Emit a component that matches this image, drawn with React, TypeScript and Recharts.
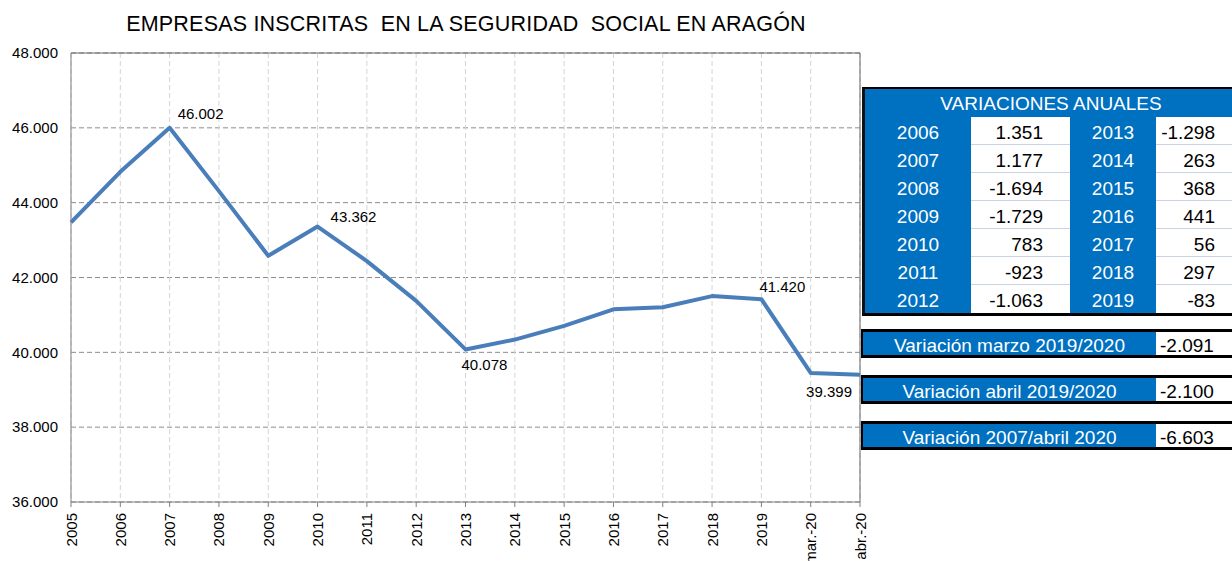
import {
  LineChart,
  Line,
  XAxis,
  YAxis,
  CartesianGrid,
  ReferenceLine,
  LabelList,
} from "recharts";

const CATEGORIES = [
  "2005", "2006", "2007", "2008", "2009", "2010", "2011", "2012", "2013",
  "2014", "2015", "2016", "2017", "2018", "2019", "mar.-20", "abr.-20",
];
const EMPRESAS = [
  43474, 44825, 46002, 44308, 42579, 43362, 42439, 41376, 40078,
  40341, 40709, 41150, 41206, 41503, 41420, 39450, 39399,
];
const Y_TICKS = [36000, 38000, 40000, 42000, 44000, 46000, 48000];
const LABELED = ["2007", "2010", "2013", "2019", "abr.-20"];

const VAR_YEARS_A = ["2006", "2007", "2008", "2009", "2010", "2011", "2012"];
const VAR_VALUES_A = [1351, 1177, -1694, -1729, 783, -923, -1063];
const VAR_YEARS_B = ["2013", "2014", "2015", "2016", "2017", "2018", "2019"];
const VAR_VALUES_B = [-1298, 263, 368, 441, 56, 297, -83];

const SUMMARY_LABELS = [
  "Variación marzo 2019/2020",
  "Variación abril 2019/2020",
  "Variación 2007/abril 2020",
];
const SUMMARY_VALUES = [-2091, -2100, -6603];

const BLUE = "#0070C0";
const LINE = "#4A7EBB";
const FONT = '"Liberation Sans", Arial, sans-serif';

const fmt = (n: number) => String(n).replace(/\B(?=(\d{3})+(?!\d))/g, ".");

const data = CATEGORIES.map((c, i) => ({ cat: c, v: EMPRESAS[i] }));

// where each data label sits relative to its point
const LABEL_POS: Record<string, { dx: number; dy: number; anchor: string }> = {
  "2007": { dx: 8, dy: -14, anchor: "start" },
  "2010": { dx: 13, dy: -10, anchor: "start" },
  "2013": { dx: -4, dy: 15, anchor: "start" },
  "2019": { dx: -2, dy: -13, anchor: "start" },
  "abr.-20": { dx: -8, dy: 17, anchor: "end" },
};

function PointLabel(props: any) {
  const { x, y, value, index } = props;
  const cat = CATEGORIES[index];
  if (!LABELED.includes(cat)) return null;
  const p = LABEL_POS[cat];
  return (
    <text
      x={x + p.dx}
      y={y + p.dy}
      textAnchor={p.anchor}
      dominantBaseline="central"
      fontSize={15}
      fontFamily={FONT}
      fill="#000"
    >
      {fmt(value)}
    </text>
  );
}

function XTick(props: any) {
  const { x, y, payload } = props;
  return (
    <text
      x={x}
      y={y}
      transform={`rotate(-90 ${x} ${y})`}
      textAnchor="end"
      dominantBaseline="central"
      fontSize={15}
      fontFamily={FONT}
      fill="#000"
    >
      {payload.value}
    </text>
  );
}

const cell = (w: number, bg: string, color: string, align: string, pad = 0, extra = {}) => ({
  width: w,
  height: 28,
  lineHeight: "31px",
  background: bg,
  color,
  textAlign: align as any,
  paddingRight: align === "right" ? pad : 0,
  boxSizing: "border-box" as const,
  overflow: "visible",
  ...extra,
});

function VariationsTable() {
  const sep = { borderBottom: "1px solid #c9d3e3" };
  return (
    <div
      style={{
        position: "absolute",
        left: 862,
        top: 87,
        width: 372,
        borderTop: "2px solid #000",
        borderLeft: "3px solid #111",
        borderBottom: "3px solid #000",
        fontFamily: FONT,
        fontSize: 19,
      }}
    >
      <div style={{ height: 28, lineHeight: "29px", background: BLUE, color: "#fff", textAlign: "center" }}>
        VARIACIONES ANUALES
      </div>
      {VAR_YEARS_A.map((y, i) => {
        const last = i === VAR_YEARS_A.length - 1;
        return (
          <div key={y} style={{ display: "flex" }}>
            <div style={cell(106, BLUE, "#fff", "center")}>{y}</div>
            <div style={cell(99, "#fff", "#000", "right", 27, last ? {} : sep)}>{fmt(VAR_VALUES_A[i])}</div>
            <div style={cell(86, BLUE, "#fff", "center")}>{VAR_YEARS_B[i]}</div>
            <div style={cell(78, "#fff", "#000", "right", 19, last ? {} : sep)}>{fmt(VAR_VALUES_B[i])}</div>
          </div>
        );
      })}
    </div>
  );
}

function SummaryBoxes() {
  return (
    <>
      {SUMMARY_LABELS.map((label, i) => (
        <div
          key={label}
          style={{
            position: "absolute",
            left: 861,
            top: 329 + i * 46,
            width: 373,
            height: 29,
            boxSizing: "border-box",
            borderTop: "3px solid #000",
            borderBottom: "3px solid #000",
            borderLeft: "2px solid #000",
            display: "flex",
            fontFamily: FONT,
            fontSize: 19,
          }}
        >
          <div style={{ width: 293, background: BLUE, color: "#fff", textAlign: "center", lineHeight: "27px", height: 23 }}>
            {label}
          </div>
          <div style={{ flex: 1, background: "#fff", color: "#000", paddingLeft: 4, lineHeight: "27px", height: 23 }}>
            {fmt(SUMMARY_VALUES[i])}
          </div>
        </div>
      ))}
    </>
  );
}

export default function App() {
  return (
    <div style={{ position: "absolute", left: 0, top: 0, width: 1232, height: 561, background: "#fff", overflow: "hidden" }}>
      <div
        style={{
          position: "absolute",
          left: 0,
          top: 12,
          width: 932,
          textAlign: "center",
          fontFamily: FONT,
          fontSize: 21.5,
          letterSpacing: 0.2,
          color: "#000",
          whiteSpace: "pre",
        }}
      >
        EMPRESAS INSCRITAS  EN LA SEGURIDAD  SOCIAL EN ARAGÓN
      </div>
      <div style={{ position: "absolute", left: 0, top: 0 }}>
        <LineChart
          width={870}
          height={561}
          data={data}
          margin={{ top: 53, right: 10, bottom: 0, left: 0 }}
        >
          <CartesianGrid vertical={false} stroke="#8c8c8c" strokeDasharray="5 3" />
          <CartesianGrid horizontal={false} stroke="#d4d4d4" strokeDasharray="5 3" />
          <XAxis
            dataKey="cat"
            scale="point"
            height={59}
            interval={0}
            tick={<XTick />}
            tickSize={5}
            tickMargin={6}
            axisLine={{ stroke: "#808080" }}
            tickLine={{ stroke: "#808080" }}
          />
          <YAxis
            width={71}
            domain={[36000, 48000]}
            ticks={Y_TICKS}
            tickFormatter={fmt}
            tickLine={false}
            tickMargin={7}
            axisLine={{ stroke: "#808080" }}
            tick={{ fontSize: 15, fontFamily: FONT, fill: "#000" }}
          />
          <ReferenceLine y={48000} stroke="#666" />
          <ReferenceLine x="abr.-20" stroke="#666" />
          <Line
            dataKey="v"
            stroke={LINE}
            strokeWidth={4}
            dot={false}
            isAnimationActive={false}
            strokeLinejoin="round"
          >
            <LabelList dataKey="v" content={<PointLabel />} />
          </Line>
        </LineChart>
      </div>
      <VariationsTable />
      <SummaryBoxes />
    </div>
  );
}
